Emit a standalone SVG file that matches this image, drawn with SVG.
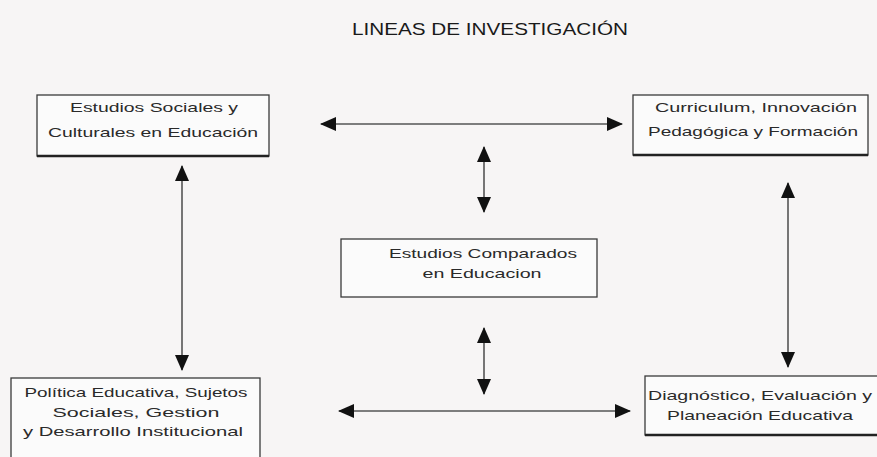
<svg xmlns="http://www.w3.org/2000/svg" width="877" height="457" viewBox="0 0 877 457">
<style>
.bg{fill:#f7f5f5}
.box{fill:#fbfbfb;stroke:#3a3a3a;stroke-width:1.3}
.base{stroke:#222;stroke-width:2.5}
.t{font-family:"Liberation Sans",Arial,sans-serif;font-size:13px;fill:#2a2a2a;text-anchor:middle}
.title{font-family:"Liberation Sans",Arial,sans-serif;font-size:17px;fill:#1a1a1a;text-anchor:middle}
.c{stroke:#555;stroke-width:1.6;fill:none;marker-start:url(#ah);marker-end:url(#ah)}
</style>
<defs>
<marker id="ah" viewBox="0 0 16 14" refX="15" refY="7" markerWidth="16" markerHeight="14" markerUnits="userSpaceOnUse" orient="auto-start-reverse">
<path d="M0,0 L16,7 L0,14 Z" fill="#111"/>
</marker>
</defs>
<rect class="bg" x="0" y="0" width="877" height="457"/>
<text class="title" x="490" y="35" textLength="276" lengthAdjust="spacingAndGlyphs">LINEAS DE INVESTIGACIÓN</text>

<g id="n1">
<rect class="box" x="37" y="95" width="232" height="61"/>
<line class="base" x1="37" y1="156" x2="269" y2="156"/>
<text class="t" x="154" y="112" textLength="168" lengthAdjust="spacingAndGlyphs">Estudios Sociales y</text>
<text class="t" x="153" y="137" textLength="210" lengthAdjust="spacingAndGlyphs">Culturales en Educación</text>
</g>

<g id="n2">
<rect class="box" x="633" y="95" width="235" height="60"/>
<line class="base" x1="633" y1="155" x2="868" y2="155"/>
<text class="t" x="756" y="112" textLength="202" lengthAdjust="spacingAndGlyphs">Curriculum, Innovación</text>
<text class="t" x="753" y="136" textLength="210" lengthAdjust="spacingAndGlyphs">Pedagógica y Formación</text>
</g>

<g id="n3">
<rect class="box" x="341" y="239" width="256" height="58"/>
<text class="t" x="483" y="258" textLength="188" lengthAdjust="spacingAndGlyphs">Estudios Comparados</text>
<text class="t" x="482" y="278" textLength="119" lengthAdjust="spacingAndGlyphs">en Educacion</text>
</g>

<g id="n4">
<rect class="box" x="11" y="378" width="249" height="82"/>
<text class="t" x="136" y="397" textLength="223" lengthAdjust="spacingAndGlyphs">Política Educativa, Sujetos</text>
<text class="t" x="136" y="417" textLength="167" lengthAdjust="spacingAndGlyphs">Sociales, Gestion</text>
<text class="t" x="133" y="436" textLength="220" lengthAdjust="spacingAndGlyphs">y Desarrollo Institucional</text>
</g>

<g id="n5">
<rect class="box" x="645" y="376" width="235" height="59"/>
<line class="base" x1="645" y1="435" x2="877" y2="435"/>
<text class="t" x="760" y="400" textLength="224" lengthAdjust="spacingAndGlyphs">Diagnóstico, Evaluación y</text>
<text class="t" x="760" y="420" textLength="186" lengthAdjust="spacingAndGlyphs">Planeación Educativa</text>
</g>

<g id="connectors">
<line class="c" x1="321" y1="124" x2="622" y2="124"/>
<line class="c" x1="484" y1="147" x2="484" y2="212"/>
<line class="c" x1="182" y1="166" x2="182" y2="370"/>
<line class="c" x1="788" y1="183" x2="788" y2="367"/>
<line class="c" x1="484" y1="328" x2="484" y2="394"/>
<line class="c" x1="339" y1="411" x2="630" y2="411"/>
</g>
</svg>
